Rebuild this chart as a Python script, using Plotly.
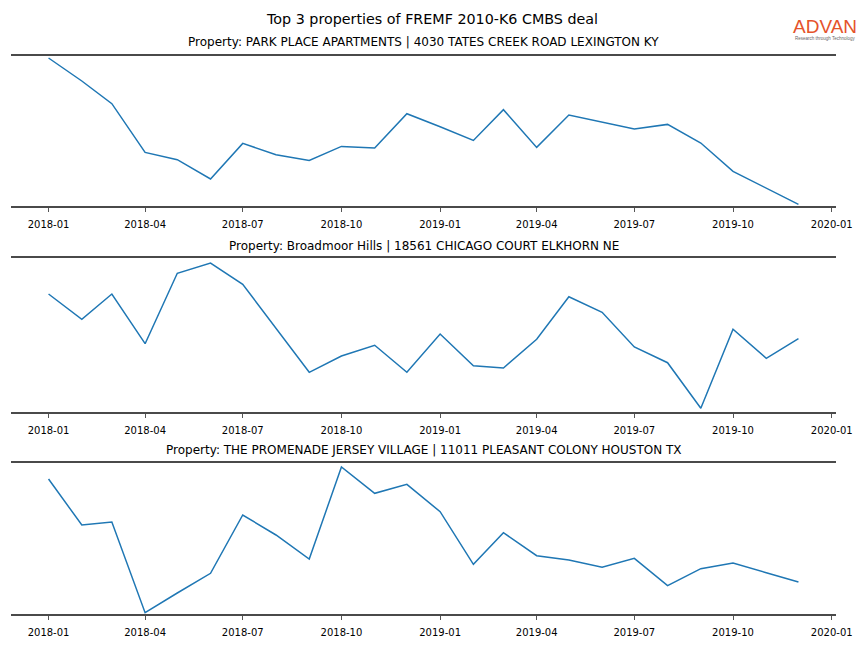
import plotly.graph_objects as go

months = [
    "2018-01-01", "2018-02-01", "2018-03-01", "2018-04-01", "2018-05-01", "2018-06-01",
    "2018-07-01", "2018-08-01", "2018-09-01", "2018-10-01", "2018-11-01", "2018-12-01",
    "2019-01-01", "2019-02-01", "2019-03-01", "2019-04-01", "2019-05-01", "2019-06-01",
    "2019-07-01", "2019-08-01", "2019-09-01", "2019-10-01", "2019-11-01", "2019-12-01",
]

titles = [
    "Property: PARK PLACE APARTMENTS | 4030 TATES CREEK ROAD LEXINGTON KY",
    "Property: Broadmoor Hills | 18561 CHICAGO COURT ELKHORN NE",
    "Property: THE PROMENADE JERSEY VILLAGE | 11011 PLEASANT COLONY HOUSTON TX",
]

# relative activity levels (y axis is hidden)
park_place = [147.7, 124.7, 102.0, 53.3, 46.0, 26.7, 62.3, 51.0, 45.3, 59.3, 57.7, 92.0,
              79.0, 65.3, 96.0, 58.3, 90.7, 83.7, 76.7, 81.3, 62.7, 34.3, 17.3, 1.3]
broadmoor = [117.7, 92.4, 117.7, 68.0, 138.4, 148.7, 127.4, 83.7, 39.4, 55.7, 66.4, 39.4,
             77.7, 46.0, 43.7, 72.4, 115.0, 99.4, 64.7, 49.0, 3.4, 82.4, 53.4, 73.0]
promenade = [135.3, 89.3, 92.3, 1.6, 21.3, 41.0, 99.3, 79.3, 55.3, 147.3, 121.0, 130.0,
             102.6, 50.0, 81.6, 58.6, 54.3, 47.0, 56.0, 28.6, 45.6, 51.3, 41.6, 32.3]
series = [park_place, broadmoor, promenade]
y_ranges = [[0, 150], [0, 154], [0, 151.6]]

main_title = "Top 3 properties of FREMF 2010-K6 CMBS deal"
logo_text = "ADVAN"
logo_tagline = "Research through Technology"

W, H = 864, 648
# panel vertical extents in pixels (top, bottom)
panels_px = [(55.7, 205.7), (257.7, 411.7), (462.7, 614.3)]
title_px = [42, 246, 450]
x_dom = [11 / W, 836 / W]

fig = go.Figure()
spine = "#4a4a4a"
for i, (vals, (top, bot)) in enumerate(zip(series, panels_px)):
    n = "" if i == 0 else str(i + 1)
    fig.add_trace(go.Scatter(
        x=months, y=vals, mode="lines",
        line=dict(color="#1f77b4", width=1.5),
        xaxis="x" + n, yaxis="y" + n, showlegend=False, hoverinfo="skip",
    ))
    fig.layout["xaxis" + n] = dict(
        domain=x_dom, anchor="y" + n, type="date",
        range=["2017-11-27", "2020-01-05"],
        tick0="2018-01-01", dtick="M3", tickformat="%Y-%m",
        ticks="outside", ticklen=4, tickwidth=1, tickcolor="#555555",
        ticklabelstandoff=4,
        showline=True, mirror=True, linecolor=spine, linewidth=2,
        showgrid=False, zeroline=False, automargin=False,
        tickfont=dict(family="DejaVu Sans", size=10, color="#000000"),
    )
    fig.layout["yaxis" + n] = dict(
        domain=[1 - bot / H, 1 - top / H], anchor="x" + n,
        range=y_ranges[i], visible=False, showgrid=False, zeroline=False,
        automargin=False,
    )
    fig.add_annotation(
        text=titles[i], xref="paper", yref="paper",
        x=(x_dom[0] + x_dom[1]) / 2, y=1 - title_px[i] / H,
        xanchor="center", yanchor="middle", showarrow=False,
        font=dict(family="DejaVu Sans", size=12, color="#000000"),
    )

fig.add_annotation(
    text=main_title, xref="paper", yref="paper", x=0.5, y=1 - 19.5 / H,
    xanchor="center", yanchor="middle", showarrow=False,
    font=dict(family="DejaVu Sans", size=14.3, color="#000000"),
)
# ADVAN logo as text
fig.add_annotation(
    text=logo_text, xref="paper", yref="paper", x=824.5 / W, y=1 - 26.5 / H,
    xanchor="center", yanchor="middle", showarrow=False,
    font=dict(family="Liberation Sans", size=19, color="#e5532b"),
)
fig.add_annotation(
    text=logo_tagline, xref="paper", yref="paper", x=824.5 / W, y=1 - 38.5 / H,
    xanchor="center", yanchor="middle", showarrow=False,
    font=dict(family="Liberation Sans", size=4.5, color="#666666"),
)

fig.update_layout(
    width=W, height=H, margin=dict(l=0, r=0, t=0, b=0, autoexpand=False),
    paper_bgcolor="white", plot_bgcolor="white",
)
fig.write_html(
    "out.html",
    config={"displayModeBar": False},
    post_script="document.body.style.margin='0';document.body.style.overflow='hidden';",
)
